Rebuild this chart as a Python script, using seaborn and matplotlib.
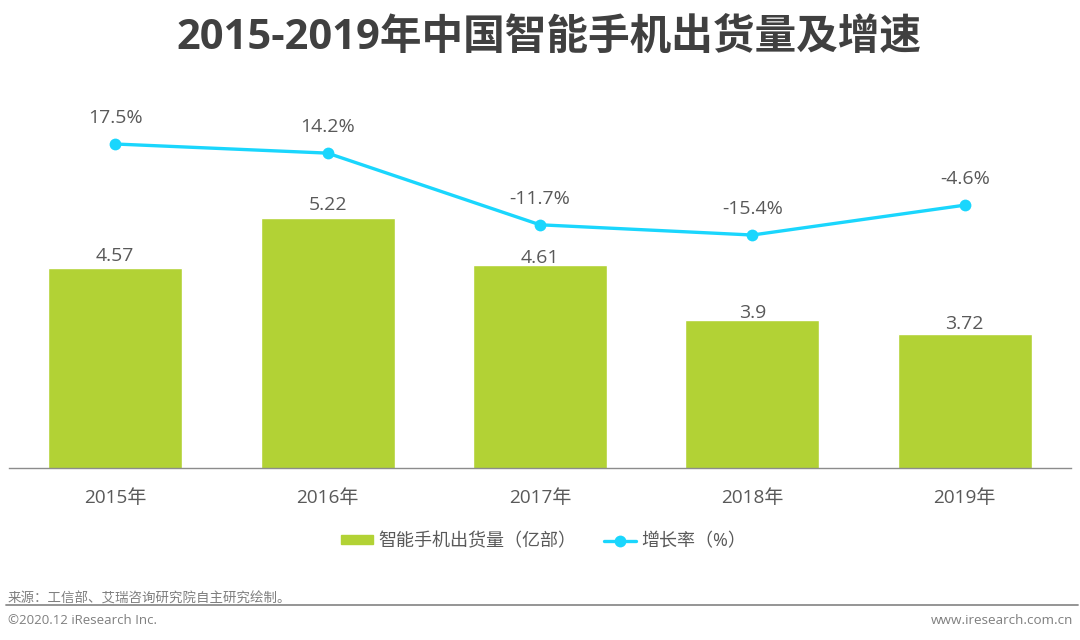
import matplotlib
matplotlib.use('Agg')
import matplotlib.pyplot as plt
import seaborn as sns
import pandas as pd
from matplotlib.lines import Line2D
from matplotlib.patches import Patch

years = ['2015年', '2016年', '2017年', '2018年', '2019年']
shipments = [4.57, 5.22, 4.61, 3.9, 3.72]
growth = [17.5, 14.2, -11.7, -15.4, -4.6]
growth_labels = ['17.5%', '14.2%', '-11.7%', '-15.4%', '-4.6%']

title = '2015-2019年中国智能手机出货量及增速'
bar_name = '智能手机出货量（亿部）'
line_name = '增长率（%）'
source = '来源：工信部、艾瑞咨询研究院自主研究绘制。'
copyright_text = '©2020.12 iResearch Inc.'
website = 'www.iresearch.com.cn'

BAR_COLOR = '#B2D235'
LINE_COLOR = '#1AD6FD'
TEXT_COLOR = '#595959'
FOOT_COLOR = '#7F7F7F'

sns.set_theme(style='white')
plt.rcParams['font.family'] = ['Open Sans', 'Noto Sans CJK SC', 'DejaVu Sans']

df = pd.DataFrame({'year': years, 'shipments': shipments, 'growth': growth})

W, H = 1080, 640
fig = plt.figure(figsize=(W / 100, H / 100), dpi=100)
ax = fig.add_axes([9 / W, 1 - 468 / H, 1062 / W, 368 / H])

sns.barplot(data=df, x='year', y='shipments', color=BAR_COLOR, saturation=1, width=0.63, ax=ax)
ax.set_xlim(-0.5, 4.5)
ax.set_ylim(2, 6.74)  # the bars do not start at zero in the original
ax.set_xlabel('')
ax.set_ylabel('')
ax.set_yticks([])
ax.tick_params(axis='x', length=0, pad=15, labelsize=13.7, labelcolor=TEXT_COLOR)
for side in ['top', 'left', 'right']:
    ax.spines[side].set_visible(False)
ax.spines['bottom'].set_color('#8C8C8C')
ax.spines['bottom'].set_linewidth(1)

# the original nudges some labels down towards their bars
bar_label_offsets = [2.4, 2.7, -1.2, -1.2, 0.9]
for i, v in enumerate(shipments):
    ax.annotate(str(v), (i, v), xytext=(0, bar_label_offsets[i]), textcoords='offset points',
                ha='center', va='bottom', fontsize=14, color=TEXT_COLOR)

ax2 = ax.twinx()
sns.lineplot(x=list(range(5)), y=growth, color=LINE_COLOR, linewidth=2.4, marker='o', markersize=8.5,
             markeredgewidth=0, ax=ax2)
ax2.set_ylim(-99.6, 33.4)
ax2.set_yticks([])
ax2.set_ylabel('')
for side in ['top', 'left', 'right', 'bottom']:
    ax2.spines[side].set_visible(False)

for i, v in enumerate(growth):
    ax2.annotate(growth_labels[i], (i, v), xytext=(0, 12), textcoords='offset points', ha='center', va='bottom',
                 fontsize=14, color=TEXT_COLOR)

fig.text(549 / W, 1 - 38 / H, title, ha='center', va='center', fontsize=30, fontweight='bold', color='#404040')

handles = [Patch(color=BAR_COLOR), Line2D([0], [0], color=LINE_COLOR, lw=2.4, marker='o', ms=8.5, mew=0)]
fig.legend(handles, [bar_name, line_name], loc='center', bbox_to_anchor=(543.5 / W, 1 - 541 / H), ncol=2,
           frameon=False, fontsize=13, labelcolor=TEXT_COLOR, handlelength=1.75, handleheight=0.35,
           handletextpad=0.3, columnspacing=1.56)

fig.add_artist(Line2D([6 / W, 1078 / W], [1 - 605 / H, 1 - 605 / H], color='#8C8C8C', lw=1.3))
fig.text(8 / W, 1 - 599 / H, source, ha='left', va='center', fontsize=9.7, color=FOOT_COLOR)
fig.text(8 / W, 1 - 620 / H, copyright_text, ha='left', va='center', fontsize=9.5, color=FOOT_COLOR)
fig.text(1073 / W, 1 - 620 / H, website, ha='right', va='center', fontsize=9.7, color=FOOT_COLOR)

fig.savefig('out.png', dpi=100)
